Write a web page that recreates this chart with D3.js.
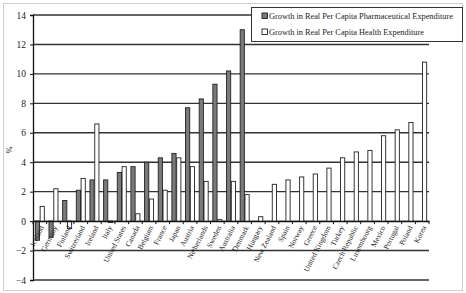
<!DOCTYPE html>
<html>
<head>
<meta charset="utf-8">
<script src="https://cdn.jsdelivr.net/npm/d3@7"></script>
<style>
  html, body { margin: 0; padding: 0; background: #fff; }
  svg text { font-family: "Liberation Serif", "Times New Roman", serif; fill: #222; }
</style>
</head>
<body>
<div id="chart"></div>
<script>
// Countries along the x axis
const countries = ["Iceland", "Germany", "Finland", "Switzerland", "Ireland", "Italy",
  "United States", "Canada", "Belgium", "France", "Japan", "Austria", "Netherlands",
  "Sweden", "Australia", "Denmark", "Hungary", "New Zealand", "Spain", "Norway", "Greece",
  "United Kingdom", "Turkey", "Czech Republic", "Luxembourg", "Mexico", "Portugal",
  "Poland", "Korea"];

// Growth in real per capita pharmaceutical expenditure (%), null = no bar
const pharmaGrowth = [-1.3, -1.1, 1.4, 2.1, 2.8, 2.8, 3.3, 3.7, 4.0, 4.3, 4.6, 7.7, 8.3,
  9.3, 10.2, 13.0, null, null, null, null, null, null, null, null, null, null, null, null, null];

// Growth in real per capita health expenditure (%)
const healthGrowth = [1.0, 2.2, -0.5, 2.9, 6.6, -0.1, 3.7, 0.5, 1.5, 2.1, 4.3, 3.7, 2.7,
  0.1, 2.7, 1.8, 0.3, 2.5, 2.8, 3.0, 3.2, 3.6, 4.3, 4.7, 4.8, 5.8, 6.2, 6.7, 10.8];

const yTicks = [-4, -2, 0, 2, 4, 6, 8, 10, 12, 14];
const seriesNames = ["Growth in Real Per Capita Pharmaceutical Expenditure",
  "Growth in Real Per Capita Health Expenditure"];

const width = 466, height = 293;
const plot = { left: 33, right: 429, top: 15, bottom: 280 };

const svg = d3.select("#chart").append("svg")
  .attr("width", width)
  .attr("height", height);

// outer frame
svg.append("rect")
  .attr("x", 3.5).attr("y", 3.5)
  .attr("width", 459).attr("height", 287)
  .attr("fill", "#fff")
  .attr("stroke", "#cfcfcf");

const x = d3.scaleBand()
  .domain(countries)
  .range([plot.left, plot.right])
  .padding(0);

const y = d3.scaleLinear()
  .domain([-4, 14])
  .range([plot.bottom, plot.top]);

// gridlines
svg.append("g")
  .selectAll("line")
  .data(yTicks)
  .join("line")
  .attr("x1", plot.left)
  .attr("x2", plot.right)
  .attr("y1", d => y(d))
  .attr("y2", d => y(d))
  .attr("stroke", "#333")
  .attr("stroke-width", 1.4);

// y axis
const yAxis = d3.axisLeft(y).tickValues(yTicks).tickSize(3).tickPadding(4);
const yG = svg.append("g")
  .attr("transform", `translate(${plot.left},0)`)
  .call(yAxis);
yG.select(".domain").attr("stroke", "#111").attr("stroke-width", 1.3);
yG.selectAll(".tick line").attr("stroke", "#111");
yG.selectAll("text")
  .style("font-size", "9.5px")
  .style("font-family", "Liberation Serif, Times New Roman, serif")
  .attr("fill", "#222");

// bars
const barW = 4.2;
const bars = svg.append("g");

countries.forEach((c, i) => {
  const cx = x(c) + x.bandwidth() / 2;
  const p = pharmaGrowth[i];
  const h = healthGrowth[i];
  if (p !== null) {
    bars.append("rect")
      .attr("x", cx - barW - 0.3)
      .attr("y", y(Math.max(0, p)))
      .attr("width", barW)
      .attr("height", Math.abs(y(p) - y(0)))
      .attr("fill", "#7a7a7a")
      .attr("stroke", "#222")
      .attr("stroke-width", 0.9);
  }
  if (h !== null) {
    bars.append("rect")
      .attr("x", cx + 0.3)
      .attr("y", y(Math.max(0, h)))
      .attr("width", barW)
      .attr("height", Math.abs(y(h) - y(0)))
      .attr("fill", "#fff")
      .attr("stroke", "#222")
      .attr("stroke-width", 0.9);
  }
});

// x axis at zero
const xAxis = d3.axisBottom(x).tickSize(0).tickFormat("");
const xG = svg.append("g")
  .attr("transform", `translate(0,${y(0)})`)
  .call(xAxis);
xG.select(".domain").attr("stroke", "#111").attr("stroke-width", 1.3);

// category boundary ticks
svg.append("g")
  .selectAll("line")
  .data(countries.concat(["_end"]))
  .join("line")
  .attr("x1", (d, i) => plot.left + i * x.bandwidth())
  .attr("x2", (d, i) => plot.left + i * x.bandwidth())
  .attr("y1", y(0))
  .attr("y2", y(0) + 3)
  .attr("stroke", "#111");

// rotated category labels
svg.append("g")
  .selectAll("text")
  .data(countries)
  .join("text")
  .attr("transform", d => `translate(${x(d) + x.bandwidth() / 2 + 2},${y(0) + 5}) rotate(-63)`)
  .attr("text-anchor", "end")
  .attr("dy", "0.35em")
  .style("font-size", "7.5px")
  .text(d => d);

// y label
svg.append("text")
  .attr("transform", "translate(12,150) rotate(-90)")
  .attr("text-anchor", "middle")
  .style("font-size", "8px")
  .text("%");

// legend
const lg = svg.append("g").attr("transform", "translate(251,7)");
lg.append("rect")
  .attr("x", 0.5).attr("y", 0.5)
  .attr("width", 211).attr("height", 34)
  .attr("fill", "#fff")
  .attr("stroke", "#333")
  .attr("stroke-width", 1);
seriesNames.forEach((name, i) => {
  const row = lg.append("g").attr("transform", `translate(11,${9 + i * 16})`);
  row.append("rect")
    .attr("x", 0).attr("y", -3)
    .attr("width", 5.5).attr("height", 5.5)
    .attr("fill", i === 0 ? "#7a7a7a" : "#fff")
    .attr("stroke", "#222")
    .attr("stroke-width", 0.9);
  row.append("text")
    .attr("x", 7)
    .attr("y", 0)
    .attr("dy", "0.35em")
    .style("font-size", "8.3px")
    .text(name);
});
</script>
</body>
</html>
